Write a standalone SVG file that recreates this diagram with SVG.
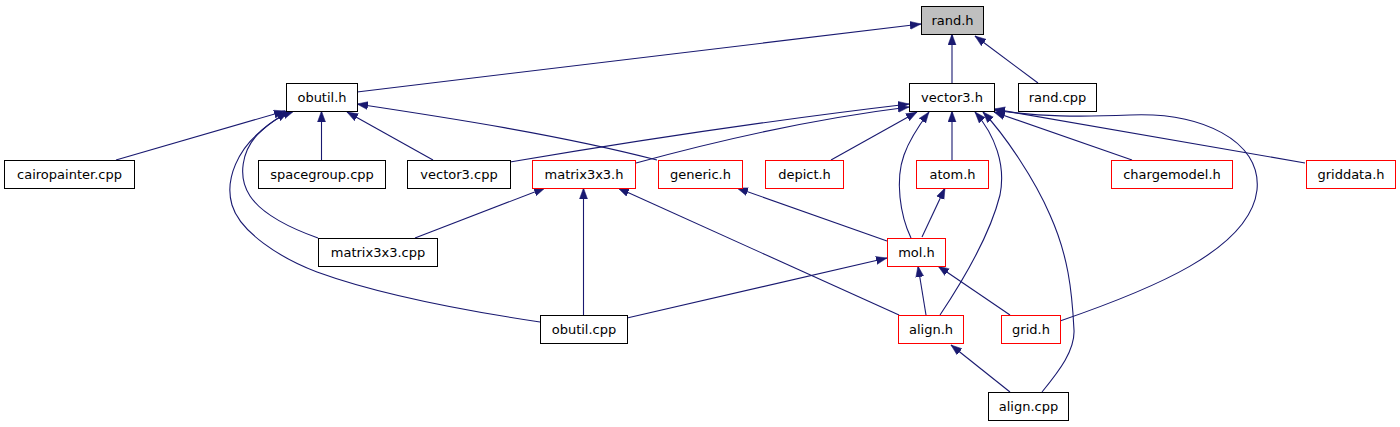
<svg xmlns="http://www.w3.org/2000/svg" width="1400" height="427" viewBox="0 0 1400 427">
<style>
.n rect{fill:#fff;stroke:#000;stroke-width:1}
.n.r rect{stroke:#ff0000}
.n.g rect{fill:#bfbfbf}
.n text{font-family:"DejaVu Sans","Liberation Sans",sans-serif;font-size:13px;fill:#000;text-anchor:middle}
#edges path{fill:none;stroke:#191970;stroke-width:1.1;marker-end:url(#ah)}
</style>
<defs>
<marker id="ah" markerUnits="userSpaceOnUse" markerWidth="12" markerHeight="9" refX="11" refY="4" orient="auto" viewBox="0 0 12 8">
<path d="M0,0 L11,4 L0,8 z" fill="#191970" stroke="#191970" stroke-width="0.5"/>
</marker>
</defs>
<rect width="1400" height="427" fill="#fff"/>
<g id="edges">
<path d="M357,92 L921,24"/>
<path d="M952,83 L952,34"/>
<path d="M1038,83 L975,36"/>
<path d="M116,160 L285,111"/>
<path d="M321.5,160 L321.5,111"/>
<path d="M433,160 L347,112"/>
<path d="M657,160 C560,135 450,118 357,104"/>
<path d="M318,238 C290,228 262,214 250,196 C238,178 240,150 262,130 C272,121 283,115 294,111"/>
<path d="M540,322 C460,310 380,295 317,272 C280,258 240,232 232,205 C224,178 240,148 260,132 C270,123 279,117 288,112"/>
<path d="M636,163 C720,140 820,118 909,107"/>
<path d="M510,162 C640,140 790,118 909,104"/>
<path d="M831,160 L917,112"/>
<path d="M911,238 C900,215 895,180 904,155 C910,138 920,124 929,112"/>
<path d="M952,160 L952,111"/>
<path d="M940,315 C960,285 990,235 1000,195 C1006,165 995,135 975,112"/>
<path d="M1042,392 C1060,370 1075,350 1074,330 C1072,290 1068,255 1050,215 C1035,180 1005,135 983,112"/>
<path d="M1132,160 L994,112"/>
<path d="M1305,163 L994,109"/>
<path d="M1060,321 C1150,290 1250,250 1257,190 C1262,140 1200,112 1130,115 C1080,117 1040,117 994,110"/>
<path d="M415,238 L545,188"/>
<path d="M583.5,315 L583.5,188"/>
<path d="M899,315 L618,188"/>
<path d="M887,241 L737,188"/>
<path d="M922,237 L945,188"/>
<path d="M627,318 L887,258"/>
<path d="M926,315 L918,266"/>
<path d="M1010,315 L938,266"/>
<path d="M1010,392 L951,345"/>
</g>
<g id="rand_h" class="n g"><rect x="921.5" y="6.5" width="62" height="28"/><text x="952.5" y="24.5">rand.h</text></g>
<g id="vector3_h" class="n"><rect x="909.5" y="83.5" width="85" height="28"/><text x="952" y="101.5">vector3.h</text></g>
<g id="rand_cpp" class="n"><rect x="1018.5" y="83.5" width="78" height="28"/><text x="1057.5" y="101.5">rand.cpp</text></g>
<g id="obutil_h" class="n"><rect x="286.5" y="83.5" width="71" height="28"/><text x="322" y="101.5">obutil.h</text></g>
<g id="cairopainter_cpp" class="n"><rect x="4.5" y="160.5" width="130" height="28"/><text x="69.5" y="178.5">cairopainter.cpp</text></g>
<g id="spacegroup_cpp" class="n"><rect x="258.5" y="160.5" width="127" height="28"/><text x="322" y="178.5">spacegroup.cpp</text></g>
<g id="vector3_cpp" class="n"><rect x="407.5" y="160.5" width="103" height="28"/><text x="459" y="178.5">vector3.cpp</text></g>
<g id="matrix3x3_h" class="n r"><rect x="532.5" y="160.5" width="103" height="28"/><text x="584" y="178.5">matrix3x3.h</text></g>
<g id="generic_h" class="n r"><rect x="658.5" y="160.5" width="84" height="28"/><text x="700.5" y="178.5">generic.h</text></g>
<g id="depict_h" class="n r"><rect x="765.5" y="160.5" width="78" height="28"/><text x="804.5" y="178.5">depict.h</text></g>
<g id="atom_h" class="n r"><rect x="916.5" y="160.5" width="72" height="28"/><text x="952.5" y="178.5">atom.h</text></g>
<g id="chargemodel_h" class="n r"><rect x="1111.5" y="160.5" width="121" height="28"/><text x="1172" y="178.5">chargemodel.h</text></g>
<g id="griddata_h" class="n r"><rect x="1306.5" y="160.5" width="89" height="28"/><text x="1351" y="178.5">griddata.h</text></g>
<g id="matrix3x3_cpp" class="n"><rect x="318.5" y="238.5" width="119" height="28"/><text x="378" y="256.5">matrix3x3.cpp</text></g>
<g id="mol_h" class="n r"><rect x="887.5" y="238.5" width="58" height="28"/><text x="916.5" y="256.5">mol.h</text></g>
<g id="obutil_cpp" class="n"><rect x="540.5" y="315.5" width="87" height="28"/><text x="584" y="333.5">obutil.cpp</text></g>
<g id="align_h" class="n r"><rect x="898.5" y="315.5" width="65" height="28"/><text x="931" y="333.5">align.h</text></g>
<g id="grid_h" class="n r"><rect x="1001.5" y="315.5" width="59" height="28"/><text x="1031" y="333.5">grid.h</text></g>
<g id="align_cpp" class="n"><rect x="988.5" y="392.5" width="80" height="28"/><text x="1028.5" y="410.5">align.cpp</text></g>
</svg>
